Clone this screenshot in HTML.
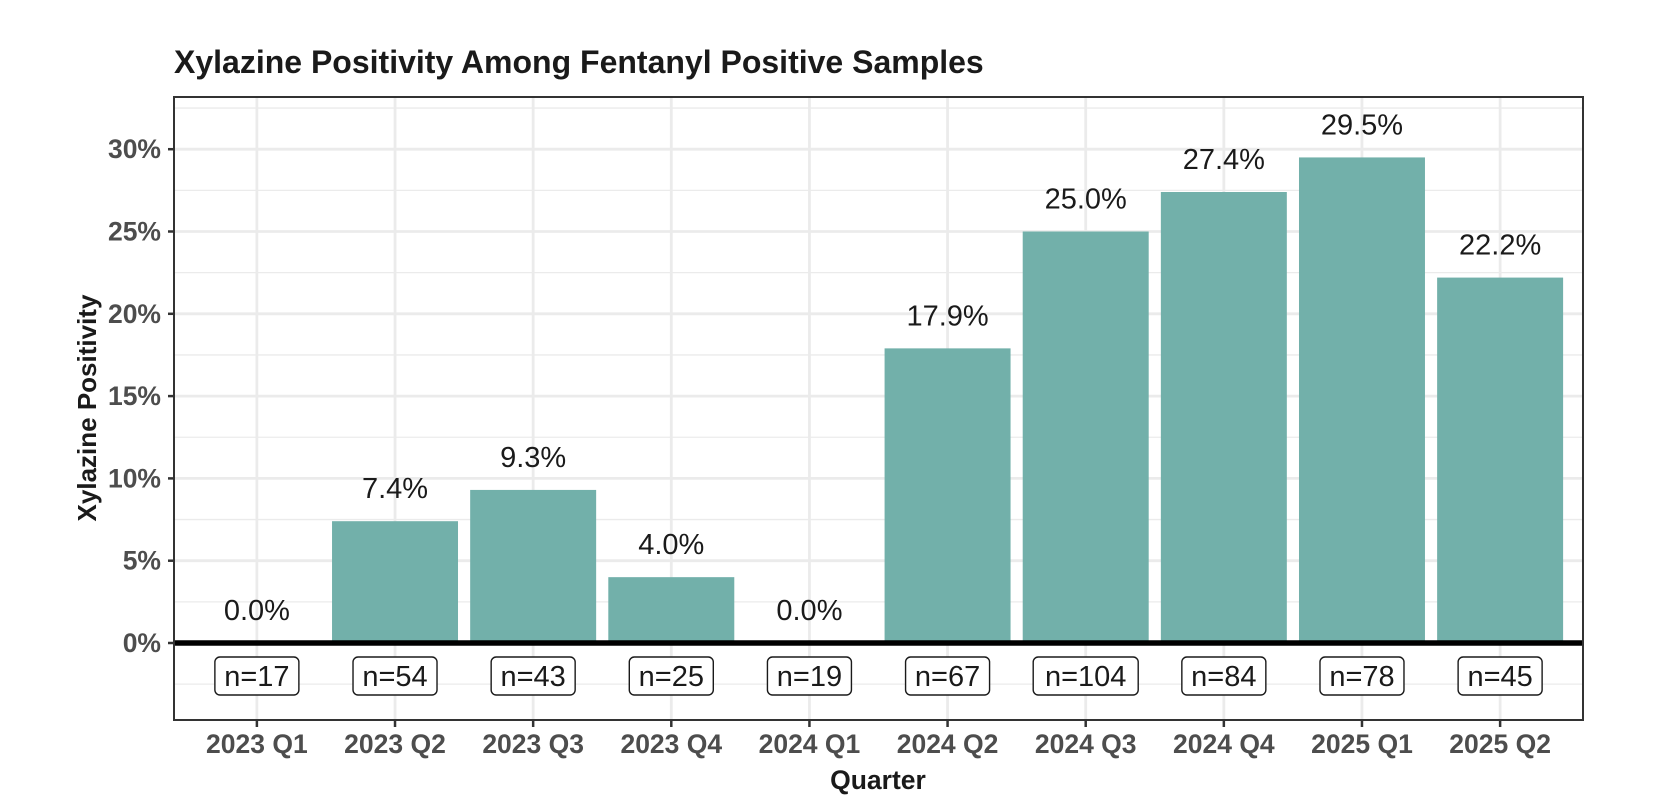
<!DOCTYPE html>
<html><head><meta charset="utf-8"><style>
html,body{margin:0;padding:0;background:#fff;}
svg{display:block;font-family:"Liberation Sans",Arial,sans-serif;}
</style></head><body>
<svg id="chart" width="1678" height="806" viewBox="0 0 1678 806">
<rect width="1678" height="806" fill="#fff"/>
<text x="174" y="73" font-size="32" font-weight="bold" fill="#1a1a1a">Xylazine Positivity Among Fentanyl Positive Samples</text>
<g id="grid"></g>
<g id="bars"></g>
<g id="labels"></g>
<g id="nboxes"></g>
<g id="axes"></g>
<text x="878" y="789" font-size="26.5" font-weight="bold" fill="#1a1a1a" text-anchor="middle">Quarter</text>
<text transform="translate(96,408) rotate(-90)" font-size="26" font-weight="bold" fill="#1a1a1a" text-anchor="middle">Xylazine Positivity</text>
</svg>
<script>
const categories = ["2023 Q1","2023 Q2","2023 Q3","2023 Q4","2024 Q1","2024 Q2","2024 Q3","2024 Q4","2025 Q1","2025 Q2"];
const positivity = [0.0, 7.4, 9.3, 4.0, 0.0, 17.9, 25.0, 27.4, 29.5, 22.2];
const sampleSizes = [17, 54, 43, 25, 19, 67, 104, 84, 78, 45];
const yTicks = [0, 5, 10, 15, 20, 25, 30];
const yMinorTicks = [-2.5, 2.5, 7.5, 12.5, 17.5, 22.5, 27.5, 32.5];

const NS = "http://www.w3.org/2000/svg";
const PL = 174, PR = 1583, PT = 97, PB = 720;
const Y0 = 643, PER = 16.46;
const step = (PR - PL) / (categories.length + 0.2);
function xPos(i){ return PL + step * (0.6 + i); }
function yPos(v){ return Y0 - v * PER; }
function mk(tag, attrs, parent){ const e = document.createElementNS(NS, tag); for (const k in attrs) e.setAttribute(k, attrs[k]); parent.appendChild(e); return e; }

const grid = document.getElementById("grid");
yMinorTicks.forEach(t => {
  const l = mk("line", {x1:PL, x2:PR, y1:yPos(t), y2:yPos(t), stroke:"#ebebeb", "stroke-width":1.3}, grid);
  
  
});
yTicks.forEach(t => {
  const l = mk("line", {x1:PL, x2:PR, y1:yPos(t), y2:yPos(t), stroke:"#ebebeb", "stroke-width":2.8}, grid);
  
  
});
categories.forEach((c, i) => {
  const l = mk("line", {x1:xPos(i), x2:xPos(i), y1:PT, y2:PB, stroke:"#ebebeb", "stroke-width":2.8}, grid);
  
  
});

const bars = document.getElementById("bars");
const labels = document.getElementById("labels");
const nb = document.getElementById("nboxes");
const bw = step * 0.912;
positivity.forEach((v, i) => {
  const x = xPos(i);
  if (v > 0) {
    const r = mk("rect", {x:x - bw/2, y:yPos(v), width:bw, height:Y0 - yPos(v), fill:"#72b0aa"}, bars);
    
    
  }
  const t = mk("text", {x:x, y:yPos(v) - 23, "font-size":29, fill:"#1a1a1a", "text-anchor":"middle"}, labels);
  t.textContent = v.toFixed(1) + "%";
  
  
});
sampleSizes.forEach((n, i) => {
  const x = xPos(i);
  const txt = "n=" + n;
  const w = txt.length * 21;
  const g = mk("g", {}, nb);
  
  
  mk("rect", {x:x - w/2, y:657, width:w, height:38, rx:5, fill:"#fff", stroke:"#1a1a1a", "stroke-width":1.4}, g);
  const t = mk("text", {x:x, y:686, "font-size":29, fill:"#1a1a1a", "text-anchor":"middle"}, g);
  t.textContent = txt;
});

const axes = document.getElementById("axes");
const zl = mk("line", {x1:PL, x2:PR, y1:Y0, y2:Y0, stroke:"#000", "stroke-width":5.5}, axes);


const frame = mk("rect", {x:PL, y:PT, width:PR-PL, height:PB-PT, fill:"none", stroke:"#333", "stroke-width":2}, axes);


yTicks.forEach(t => {
  mk("line", {x1:PL-6, x2:PL, y1:yPos(t), y2:yPos(t), stroke:"#333", "stroke-width":2.5}, axes);
  const tx = mk("text", {x:PL-13, y:yPos(t)+9, "font-size":26.5, "font-weight":"bold", fill:"#4d4d4d", "text-anchor":"end"}, axes);
  tx.textContent = t + "%";
  
  
});
categories.forEach((c, i) => {
  mk("line", {x1:xPos(i), x2:xPos(i), y1:PB, y2:PB+7, stroke:"#333", "stroke-width":2.5}, axes);
  const tx = mk("text", {x:xPos(i), y:753, "font-size":26.5, "font-weight":"bold", fill:"#4d4d4d", "text-anchor":"middle"}, axes);
  tx.textContent = c;
  
  
});
</script>
</body></html>
